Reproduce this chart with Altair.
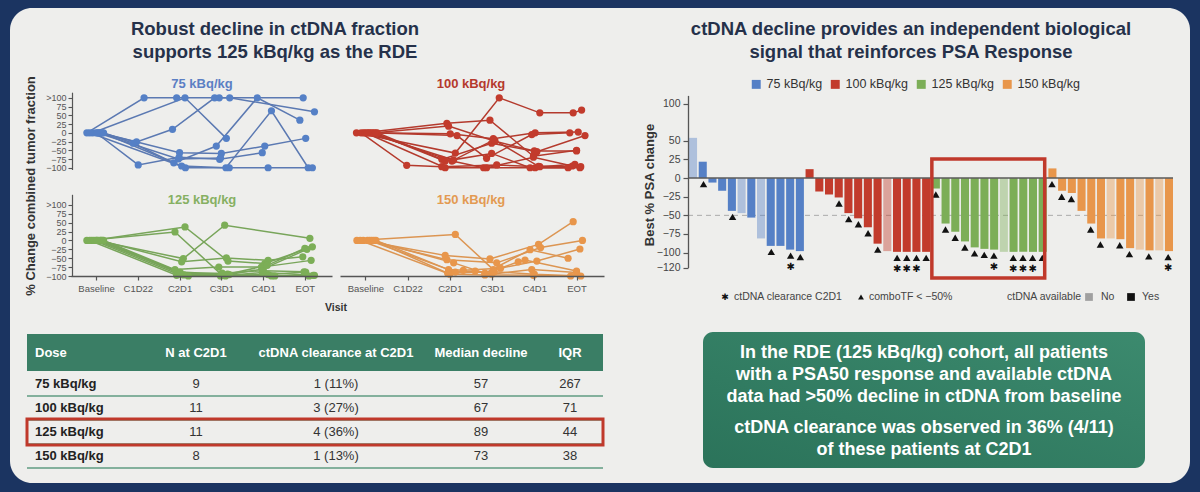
import json

import altair as alt
import pandas as pd

FONT = "Liberation Sans"
NAVY = "#1b3461"
PANEL = "#eeeeec"
INK = "#25314a"
AXIS_INK = "#555555"
HILITE = "#c0392b"
TEAL = "#3a7e65"

# ---------------------------------------------------------------- dose groups
DOSES = ["75 kBq/kg", "100 kBq/kg", "125 kBq/kg", "150 kBq/kg"]
DOSE_COLORS = ["#5580c6", "#c23b2c", "#7cae57", "#e8964b"]
LINE_COLORS = ["#5b79b2", "#b43a2d", "#78a55a", "#dc9552"]
TITLE_COLORS = ["#5b7fc4", "#b5392c", "#86b062", "#e39a52"]
RDE = "125 kBq/kg"

VISITS = ["Baseline", "C1D22", "C2D1", "C3D1", "C4D1", "EOT"]

# ctDNA trajectories per patient: (visit position, % change in tumor fraction)
CT_75 = [
    [(-0.22, 0), (1.15, 100), (1.93, 100), (2.95, 100), (4.96, 100)],
    [(-0.08, 0), (2.13, 100), (3.12, -16)],
    [(0.06, 0), (0.97, -26), (1.83, 10), (2.84, 100), (3.2, 100), (5.23, 60)],
    [(0.18, 0), (0.89, -30), (1.86, -86), (2.88, -38), (3.86, 100), (4.88, 36)],
    [(0.0, 0), (1.01, -92), (1.99, -70), (2.96, -76), (3.98, -57)],
    [(0.1, 0), (2.0, -57), (3.0, -59), (4.04, -38), (5.02, -16)],
    [(0.15, 0), (2.05, -95), (3.11, -100), (4.2, 63), (5.08, -100)],
    [(-0.15, 0), (2.14, -100), (3.19, -100), (4.12, -100), (5.18, -100)],
    [(0.03, 0), (1.97, -75), (2.98, -72)],
]
CT_100 = [
    [(-0.21, 0), (2.13, -58), (3.17, 100), (4.13, 57), (4.92, 57), (5.12, 65)],
    [(-0.04, 0), (1.93, 27), (2.95, 36), (3.98, -67), (5.0, -50)],
    [(0.08, 0), (2.01, -3), (3.03, -17), (4.02, 0), (5.04, 2)],
    [(0.16, 0), (2.17, -8), (2.87, -73), (3.94, -5), (4.84, 0)],
    [(0.28, 0), (1.81, -76), (2.99, -30), (4.06, -54), (5.2, -8)],
    [(-0.1, 0), (0.98, -93), (1.81, -97), (3.11, -92), (4.13, -97), (4.96, -90)],
    [(0.2, 0), (1.89, -81), (2.99, -59), (3.9, -100), (4.8, -100)],
    [(0.12, 0), (2.05, -81), (2.8, -100), (4.02, -100), (5.08, -100)],
    [(0.0, 0), (1.89, -100), (2.87, -100), (3.98, -70), (4.9, -95)],
    [(0.24, 0), (1.97, 19), (3.07, -24), (4.0, -52), (5.0, -52)],
    [(0.05, 0), (2.09, -78), (3.05, -20), (4.1, -96), (5.1, -97)],
]
CT_125 = [
    [(-0.22, 0), (1.89, 24), (3.0, -96), (4.28, -100), (5.23, -98)],
    [(-0.1, 0), (2.13, 38), (3.16, -58), (4.04, -65), (5.18, -18)],
    [(0.0, 0), (2.09, -51), (3.08, 43), (5.12, 6)],
    [(0.1, 0), (2.05, -60), (3.12, -49), (4.12, -56), (4.95, -46)],
    [(0.18, 0), (1.89, -82), (2.94, -75), (3.96, -75), (5.15, -56)],
    [(0.05, 0), (2.01, -89), (3.19, -96), (4.0, -80), (5.05, -25)],
    [(-0.15, 0), (1.93, -98), (3.05, -98), (4.12, -96), (5.02, -89)],
    [(0.12, 0), (2.21, -100), (3.1, -100), (4.2, -100), (5.1, -100)],
    [(-0.05, 0), (1.97, -95), (2.98, -100), (3.98, -90), (5.2, -98)],
    [(0.15, 0), (2.1, -97), (3.15, -95), (4.1, -70), (5.0, -22)],
    [(0.02, 0), (2.0, -92), (3.02, -92), (4.0, -85), (4.98, -88)],
]
CT_150 = [
    [(-0.2, 0), (2.13, 17), (3.03, -82), (4.06, -58), (5.08, -24)],
    [(-0.05, 0), (1.89, -42), (2.95, -52), (4.1, -11), (4.92, 53)],
    [(0.05, 0), (1.93, -54), (3.11, -63), (4.15, -20), (5.14, 0)],
    [(0.15, 0), (2.09, -63), (2.83, -92), (3.9, -26), (4.8, -50)],
    [(0.25, 0), (1.97, -82), (2.32, -84), (3.2, -78), (3.62, -60), (3.78, -55), (5.0, -86)],
    [(0.1, 0), (2.13, -89), (2.6, -86), (2.99, -95), (3.94, -82), (5.0, -90)],
    [(-0.12, 0), (2.0, -95), (2.83, -97), (3.98, -98), (4.86, -100)],
    [(0.2, 0), (1.95, -92), (3.05, -88), (4.0, -95), (5.1, -100)],
]
CT_TRAJ = [CT_75, CT_100, CT_125, CT_150]

# ---------------------------------------------------- PSA waterfall (per bar)
PSA_N = [12, 13, 12, 13]
PSA_CHANGE = [
    54, 22, -6, -17, -44, -47, -53, -81, -91, -91, -96, -98,
    12, -18, -22, -26, -47, -54, -66, -88, -98, -99, -99, -99, -99,
    -14, -61, -72, -85, -93, -95, -96, -99, -99, -99, -99, -99,
    13, -17, -20, -44, -61, -81, -81, -82, -94, -96, -97, -97, -98,
]
CT_AVAILABLE = [
    0, 1, 1, 1, 1, 0, 1, 0, 1, 1, 1, 1,
    1, 1, 1, 1, 1, 1, 1, 1, 0, 1, 1, 1, 1,
    1, 1, 1, 1, 1, 1, 1, 0, 1, 1, 1, 1,
    1, 1, 1, 1, 1, 1, 0, 1, 1, 0, 1, 0, 1,
]
COMBO_TF = [
    0, 1, 0, 0, 1, 0, 0, 0, 1, 0, 1, 1,
    0, 0, 0, 1, 1, 1, 1, 1, 0, 1, 1, 1, 1,
    1, 1, 1, 1, 1, 1, 1, 0, 1, 1, 1, 1,
    1, 1, 1, 0, 1, 1, 0, 1, 1, 0, 1, 0, 1,
]
CT_CLEARED = [
    0, 0, 0, 0, 0, 0, 0, 0, 0, 0, 1, 0,
    0, 0, 0, 0, 0, 0, 0, 0, 0, 1, 1, 1, 0,
    0, 0, 0, 0, 0, 0, 1, 0, 1, 1, 1, 0,
    0, 0, 0, 0, 0, 0, 0, 0, 0, 0, 0, 0, 1,
]
PSA_TICKS = [100, 50, 25, 0, -25, -50, -75, -100, -120]

# ---------------------------------------------------------- summary table
TABLE_HEADERS = ["Dose", "N at C2D1", "ctDNA clearance at C2D1", "Median decline", "IQR"]
N_C2D1 = [9, 11, 11, 8]
CLEARED_C2D1 = [1, 3, 4, 1]
MEDIAN_DECLINE = [57, 67, 89, 73]
IQR = [267, 71, 44, 38]

ONE = pd.DataFrame({"k": [0]})


def text(t, x, y, size, color=INK, weight="normal", align="center",
         baseline="middle", angle=None, line_height=None, font=FONT):
    kw = dict(text=t, fontSize=size, color=color, fontWeight=weight,
              align=align, baseline=baseline, font=font)
    if angle is not None:
        kw["angle"] = angle
    if line_height is not None:
        kw["lineHeight"] = line_height
    return alt.Chart(ONE).mark_text(**kw).encode(x=alt.value(x), y=alt.value(y))


def box(x0, x1, y0, y1, **kw):
    return alt.Chart(ONE).mark_rect(**kw).encode(
        x=alt.value(x0), x2=alt.value(x1), y=alt.value(y0), y2=alt.value(y1))


layers = []

# slide panel
layers.append(box(10, 1190, 8, 483, color=PANEL, cornerRadius=22))

# ------------------------------------------------------------- titles
layers.append(text(["Robust decline in ctDNA fraction", "supports 125 kBq/kg as the RDE"],
                   275, 20, 18.5, weight="bold", baseline="top", line_height=22.5))
layers.append(text(["ctDNA decline provides an independent biological",
                    "signal that reinforces PSA Response"],
                   911, 20, 18.5, weight="bold", baseline="top", line_height=22.5))

# --------------------------------------------------- ctDNA spaghetti plots
X_DOMAIN = [-0.6, 5.65]
visit_expr = json.dumps(VISITS) + "[datum.value]"


def spaghetti(k, col, row):
    rows = []
    for pid, path in enumerate(CT_TRAJ[k]):
        for step, (v, val) in enumerate(path):
            rows.append({"pid": pid, "step": step, "visit": v, "pct": val})
    df = pd.DataFrame(rows)
    x_range = [71, 332] if col == 0 else [340, 604]
    if row == 0:
        y_dom, y_rng = [-105, 116], [169.5, 92.2]
    else:
        y_dom, y_rng = [-100, 130], [276, 194.3]
    xs = alt.Scale(domain=X_DOMAIN, range=x_range, nice=False, zero=False)
    ys = alt.Scale(domain=y_dom, range=y_rng, nice=False, zero=False)
    x_axis = None
    if row == 1:
        x_axis = alt.Axis(orient="bottom", offset=276 - 492, values=list(range(6)),
                          labelExpr=visit_expr, title=None, grid=False, zindex=2,
                          tickSize=4, tickColor=AXIS_INK, domainColor=AXIS_INK,
                          domainWidth=1.4, tickWidth=1.2, labelFontSize=9.5,
                          labelColor="#555", labelPadding=3, labelOverlap=False,
                          labelFlush=False)
    y_axis = None
    if col == 0:
        y_axis = alt.Axis(orient="left", offset=-72, values=list(range(-100, 101, 25)),
                          labelExpr="datum.value == 100 ? '>100' : datum.label",
                          title=None, grid=False, zindex=2, tickSize=4, tickColor=AXIS_INK,
                          domainColor=AXIS_INK, domainWidth=1.2, tickWidth=1.1,
                          labelFontSize=9, labelColor="#555", labelPadding=2,
                          labelOverlap=False, labelFlush=False)
    line = alt.Chart(df).mark_line(color=LINE_COLORS[k], strokeWidth=1.5).encode(
        x=alt.X("visit:Q", scale=xs, axis=x_axis),
        y=alt.Y("pct:Q", scale=ys, axis=y_axis),
        detail="pid:N",
        order=alt.Order("step:Q"),
    )
    dots = alt.Chart(df).mark_circle(color=DOSE_COLORS[k], size=52, opacity=1).encode(
        x=alt.X("visit:Q", scale=xs, axis=None),
        y=alt.Y("pct:Q", scale=ys, axis=None),
    )
    cx = 202 if col == 0 else 471
    cy = 84 if row == 0 else 200
    return [line, dots, text(DOSES[k], cx, cy, 13, color=TITLE_COLORS[k], weight="bold")]


for k, (col, row) in enumerate([(0, 0), (1, 0), (0, 1), (1, 1)]):
    layers.extend(spaghetti(k, col, row))

layers.append(text("% Change combined tumor fraction", 31, 186, 13, color="#333",
                   weight="bold", angle=270))
layers.append(text("Visit", 336, 308, 10.5, color="#333", weight="bold"))

# ------------------------------------------------------------ summary table
tbl = pd.DataFrame({
    "dose": DOSES,
    "n": N_C2D1,
    "clear": [f"{c} ({int(100 * c / n + 0.5)}%)" for c, n in zip(CLEARED_C2D1, N_C2D1)],
    "median": MEDIAN_DECLINE,
    "iqr": IQR,
})
row_scale = alt.Scale(type="point", domain=DOSES, range=[384, 456], padding=0)
row_y = alt.Y("dose:N", scale=row_scale, axis=None)

layers.append(box(27, 603, 334, 371, color=TEAL))
col_x = [35, 196, 336, 481, 570]
col_align = ["left", "center", "center", "center", "center"]
for label, x, a in zip(TABLE_HEADERS, col_x, col_align):
    layers.append(text(label, x, 353, 13, color="white", weight="bold", align=a))

layers.append(alt.Chart(tbl).mark_rule(color="#5f9b82", strokeWidth=1.5, yOffset=12).encode(
    x=alt.value(27), x2=alt.value(603), y=row_y))
for field, x, a in zip(["dose", "n", "clear", "median", "iqr"], col_x, col_align):
    layers.append(alt.Chart(tbl).mark_text(
        fontSize=13, font=FONT, align=a, baseline="middle",
        fontWeight="bold" if field == "dose" else "normal",
        color="#222" if field == "dose" else "#333",
    ).encode(x=alt.value(x), y=row_y, text=f"{field}:N"))
layers.append(alt.Chart(tbl[tbl["dose"] == RDE]).mark_rect(
    filled=False, color=HILITE, strokeWidth=3, yOffset=-13, y2Offset=13).encode(
    x=alt.value(27), x2=alt.value(603), y=row_y, y2=alt.Y2("dose")))

# ------------------------------------------------------------ PSA waterfall
doses_per_bar = sum([[d] * n for d, n in zip(DOSES, PSA_N)], [])
psa = pd.DataFrame({
    "bar": list(range(len(PSA_CHANGE))),
    "dose": doses_per_bar,
    "psa": PSA_CHANGE,
    "avail": ["Yes" if a else "No" for a in CT_AVAILABLE],
    "combo": COMBO_TF,
    "cleared": CT_CLEARED,
})
psa["tip"] = psa["psa"].clip(upper=0)

bar_scale = alt.Scale(domain=list(range(len(psa))), range=[689, 1173],
                      paddingInner=0.17, paddingOuter=0)
psa_scale = alt.Scale(domain=[-120, 111], range=[267.5, 95.4], nice=False, zero=False)
bar_x = alt.X("bar:O", scale=bar_scale, axis=None)

layers.append(alt.Chart(ONE).mark_rule(color="#aaaaaa", strokeWidth=1, strokeDash=[5, 4]).encode(
    y=alt.YDatum(-50, scale=psa_scale, axis=None), x=alt.value(688), x2=alt.value(1173)))

layers.append(alt.Chart(psa).mark_bar().encode(
    x=bar_x,
    y=alt.Y("psa:Q", scale=psa_scale,
            axis=alt.Axis(orient="left", offset=-688, values=PSA_TICKS, title=None,
                          grid=False, zindex=2, labelFontSize=10.5, labelColor="#444",
                          tickSize=5, tickColor=AXIS_INK, domainColor=AXIS_INK,
                          domainWidth=1.3, tickWidth=1.2, labelOverlap=False,
                          labelPadding=3, labelFlush=False)),
    y2=alt.Y2Datum(0),
    color=alt.Color("dose:N", scale=alt.Scale(domain=DOSES, range=DOSE_COLORS),
                    legend=alt.Legend(title=None, orient="none", legendX=750, legendY=78,
                                      direction="horizontal", symbolType="square",
                                      symbolSize=80, symbolOpacity=1, symbolStrokeWidth=0,
                                      labelFontSize=12.5, labelFont=FONT, labelColor="#333",
                                      columnPadding=6, labelOffset=4, padding=0)),
    opacity=alt.Opacity("avail:N", scale=alt.Scale(domain=["No", "Yes"], range=[0.42, 1]),
                        legend=None),
))

layers.append(alt.Chart(ONE).mark_rule(color="#5a5a5a", strokeWidth=1.5).encode(
    y=alt.YDatum(0, scale=psa_scale, axis=None), x=alt.value(688), x2=alt.value(1173)))

layers.append(alt.Chart(psa[psa["combo"] == 1]).mark_point(
    shape="triangle-up", filled=True, color="#111", size=55, opacity=1, yOffset=6).encode(
    x=bar_x, y=alt.Y("tip:Q", scale=psa_scale, axis=None)))
layers.append(alt.Chart(psa[psa["cleared"] == 1]).mark_text(
    text="\u2731", font="DejaVu Sans", fontSize=10, color="#111", yOffset=17,
    baseline="middle").encode(
    x=bar_x, y=alt.Y("tip:Q", scale=psa_scale, axis=None)))

rde_bars = psa.index[psa["dose"] == RDE]
rde_span = pd.DataFrame({"first": [int(rde_bars.min())], "last": [int(rde_bars.max())]})
layers.append(alt.Chart(rde_span).mark_rect(
    filled=False, color=HILITE, strokeWidth=3.5, xOffset=-4, x2Offset=2).encode(
    x=alt.X("first:O", scale=bar_scale, axis=None), x2=alt.X2("last"),
    y=alt.value(159), y2=alt.value(278)))

layers.append(text("Best % PSA change", 650, 185, 13, color="#333", weight="bold", angle=270))

# marker / availability key
layers.append(text("\u2731", 725, 297, 9, color="#111", font="DejaVu Sans"))
layers.append(text("ctDNA clearance C2D1", 734, 297, 10.5, color="#444", align="left"))
layers.append(alt.Chart(ONE).mark_point(shape="triangle-up", filled=True, color="#111",
                                        size=34, opacity=1).encode(
    x=alt.value(861), y=alt.value(297)))
layers.append(text("comboTF < \u221250%", 869, 297, 10.5, color="#444", align="left"))
layers.append(text("ctDNA available", 1007, 297, 10.5, color="#444", align="left"))
layers.append(alt.Chart(ONE).mark_point(shape="square", filled=True, color="#a0a0a0",
                                        size=60, opacity=1).encode(
    x=alt.value(1089), y=alt.value(297)))
layers.append(text("No", 1101, 297, 10.5, color="#444", align="left"))
layers.append(alt.Chart(ONE).mark_point(shape="square", filled=True, color="#111",
                                        size=60, opacity=1).encode(
    x=alt.value(1131), y=alt.value(297)))
layers.append(text("Yes", 1142, 297, 10.5, color="#444", align="left"))

# ------------------------------------------------------------ key message box
green_fill = alt.LinearGradient(
    gradient="linear", x1=0, y1=1, x2=1, y2=0,
    stops=[alt.GradientStop(offset=0, color="#2b735a"),
           alt.GradientStop(offset=1, color="#3c8a6e")])
layers.append(box(703, 1145, 332, 468, color=green_fill, cornerRadius=10))
layers.append(text(["In the RDE (125 kBq/kg) cohort, all patients",
                    "with a PSA50 response and available ctDNA",
                    "data had >50% decline in ctDNA from baseline"],
                   924, 344, 18, color="white", weight="bold", baseline="top",
                   line_height=22))
layers.append(text(["ctDNA clearance was observed in 36% (4/11)",
                    "of these patients at C2D1"],
                   924, 419, 18, color="white", weight="bold", baseline="top",
                   line_height=22))

chart = (
    alt.layer(*layers)
    .resolve_scale(x="independent", y="independent", color="independent",
                   opacity="independent")
    .resolve_axis(x="independent", y="independent")
    .resolve_legend(color="independent", opacity="independent")
    .properties(width=1200, height=492, autosize=alt.AutoSizeParams(type="none"),
                padding=0)
    .configure(background=NAVY, font=FONT)
    .configure_view(stroke=None)
    .configure_axis(labelFont=FONT)
)

chart.save("out.html", embed_options={"renderer": "svg", "actions": False})
